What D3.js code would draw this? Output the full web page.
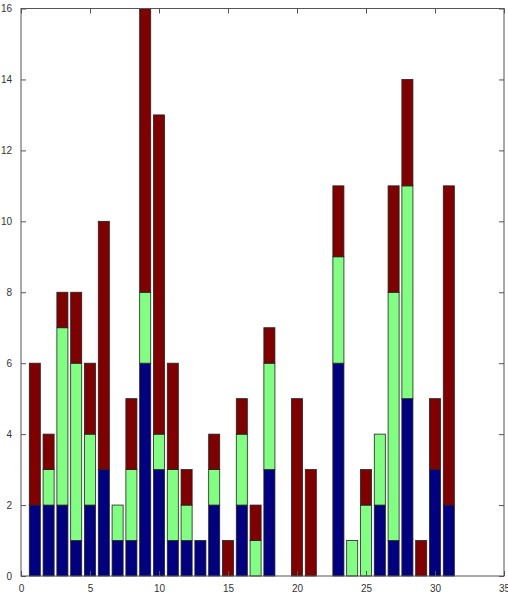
<!DOCTYPE html>
<html>
<head>
<meta charset="utf-8">
<script src="https://cdn.jsdelivr.net/npm/d3@7"></script>
<style>
  html, body { margin: 0; padding: 0; background: #fff; }
  svg { display: block; }
  .tick text { font-family: "Liberation Sans", Arial, sans-serif; font-size: 10px; fill: #333; }
</style>
</head>
<body>
<svg id="chart" width="508" height="594"></svg>
<script>
// Positions along x (1..31) and the three stacked series
const positions = d3.range(1, 32);
const seriesBlue  = [2,2,2,1,2,3,1,1,6,3,1,1,1,2,0,2,0,3,0,0,0,0,6,0,0,2,1,5,0,3,2];
const seriesGreen = [0,1,5,5,2,0,1,2,2,1,2,1,0,1,0,2,1,3,0,0,0,0,3,1,2,2,7,6,0,0,0];
const seriesRed   = [4,1,1,2,2,7,0,2,8,9,3,1,0,1,1,1,1,1,0,5,3,0,2,0,1,0,3,3,1,2,9];
const seriesColors = ["#000080", "#80ff80", "#800000"];
const xTicks = [0, 5, 10, 15, 20, 25, 30, 35];
const yTicks = [0, 2, 4, 6, 8, 10, 12, 14, 16];

const svg = d3.select("#chart");
const plotLeft = 21, plotRight = 504, plotTop = 8.5, plotBottom = 576;

const x = d3.scaleLinear().domain([0, 35]).range([plotLeft, plotRight]);
const y = d3.scaleLinear().domain([0, 16]).range([plotBottom, plotTop]);

const rows = positions.map((p, i) => ({ p, b: seriesBlue[i], g: seriesGreen[i], r: seriesRed[i] }));
const layers = d3.stack().keys(["b", "g", "r"])(rows);

const barW = 0.8;
const bars = svg.append("g");
layers.forEach((layer, li) => {
  bars.selectAll(null)
    .data(layer.filter(d => d[1] > d[0]))
    .join("rect")
    .attr("x", d => x(d.data.p - barW / 2))
    .attr("width", d => x(d.data.p + barW / 2) - x(d.data.p - barW / 2))
    .attr("y", d => y(d[1]))
    .attr("height", d => y(d[0]) - y(d[1]))
    .attr("fill", seriesColors[li])
    .attr("stroke", "#222")
    .attr("stroke-width", 0.8);
});

// Axes with inward ticks on all four sides
const axisStyle = sel => {
  sel.select(".domain").remove();
  sel.selectAll(".tick line").attr("stroke", "#555");
};
svg.append("g").attr("transform", `translate(0,${plotBottom})`)
  .call(d3.axisBottom(x).tickValues(xTicks).tickSize(-5).tickPadding(9))
  .call(axisStyle);
svg.append("g").attr("transform", `translate(0,${plotTop})`)
  .call(d3.axisTop(x).tickValues(xTicks).tickSize(-5).tickFormat(""))
  .call(axisStyle);
svg.append("g").attr("transform", `translate(${plotLeft},0)`)
  .call(d3.axisLeft(y).tickValues(yTicks).tickSize(-5).tickPadding(9))
  .call(axisStyle);
svg.append("g").attr("transform", `translate(${plotRight},0)`)
  .call(d3.axisRight(y).tickValues(yTicks).tickSize(-5).tickFormat(""))
  .call(axisStyle);

svg.append("rect")
  .attr("x", plotLeft).attr("y", plotTop)
  .attr("width", plotRight - plotLeft).attr("height", plotBottom - plotTop)
  .attr("fill", "none").attr("stroke", "#555").attr("stroke-width", 1);
</script>
</body>
</html>
